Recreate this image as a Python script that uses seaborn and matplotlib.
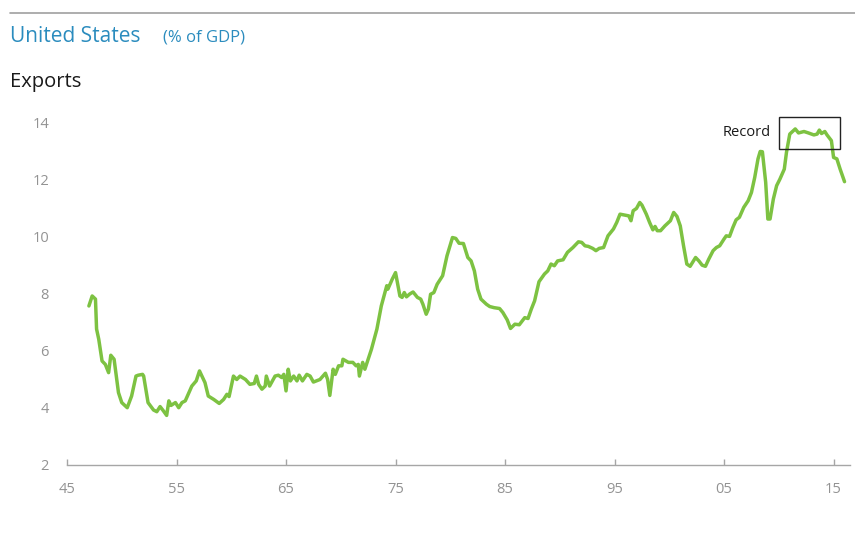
import matplotlib
matplotlib.use("Agg")
import matplotlib.pyplot as plt
import matplotlib.patches as mpatches
import seaborn as sns
import pandas as pd

# US exports as a share of GDP (%), by fractional year
years = [
    1947.0, 1947.3, 1947.6, 1947.7, 1947.9, 1948.2, 1948.5, 1948.8, 1949.0, 1949.3,
    1949.7, 1950.0, 1950.5, 1950.9, 1951.3, 1951.5, 1951.9, 1952.0, 1952.4, 1952.9,
    1953.2, 1953.5, 1953.8, 1954.1, 1954.3, 1954.5, 1954.9, 1955.2, 1955.5, 1955.8,
    1956.4, 1956.8, 1957.1, 1957.6, 1957.9, 1958.4, 1958.9, 1959.3, 1959.6, 1959.8,
    1960.2, 1960.5, 1960.8, 1961.3, 1961.7, 1962.1, 1962.3, 1962.5, 1962.8, 1963.1,
    1963.2, 1963.5, 1964.0, 1964.3, 1964.6, 1964.8, 1965.0, 1965.2, 1965.4, 1965.7,
    1966.0, 1966.2, 1966.5, 1966.9, 1967.2, 1967.5, 1968.1, 1968.6, 1968.8, 1969.0,
    1969.3, 1969.5, 1969.8, 1970.1, 1970.2, 1970.7, 1971.1, 1971.4, 1971.6, 1971.7,
    1972.0, 1972.2, 1972.5, 1972.8, 1973.3, 1973.7, 1974.2, 1974.3, 1974.7, 1975.0,
    1975.4, 1975.6, 1975.8, 1976.0, 1976.3, 1976.6, 1977.0, 1977.3, 1977.5, 1977.8,
    1978.0, 1978.2, 1978.5, 1978.8, 1979.3, 1979.7, 1980.2, 1980.5, 1980.8, 1981.2,
    1981.6, 1981.9, 1982.2, 1982.5, 1982.8, 1983.3, 1983.6, 1984.0, 1984.5, 1984.8,
    1985.2, 1985.5, 1985.9, 1986.3, 1986.8, 1987.1, 1987.4, 1987.7, 1988.1, 1988.6,
    1988.9, 1989.2, 1989.5, 1989.8, 1990.3, 1990.7, 1991.2, 1991.7, 1992.0, 1992.3,
    1992.6, 1993.0, 1993.3, 1993.6, 1994.0, 1994.4, 1994.9, 1995.2, 1995.5, 1995.9,
    1996.3, 1996.5, 1996.7, 1997.0, 1997.3, 1997.5, 1997.9, 1998.2, 1998.5, 1998.7,
    1998.9, 1999.2, 1999.6, 2000.1, 2000.4, 2000.7, 2001.0, 2001.3, 2001.6, 2001.9,
    2002.4, 2002.7, 2003.0, 2003.3, 2003.6, 2004.0, 2004.3, 2004.6, 2005.0, 2005.2,
    2005.5, 2005.8, 2006.1, 2006.4, 2006.8, 2007.2, 2007.5, 2007.8, 2008.1, 2008.3,
    2008.5, 2008.8, 2009.0, 2009.2, 2009.5, 2009.8, 2010.1, 2010.5, 2010.7, 2011.0,
    2011.5, 2011.8, 2012.3, 2012.7, 2013.2, 2013.5, 2013.7, 2013.9, 2014.2, 2014.4,
    2014.8, 2015.0, 2015.3, 2015.6, 2016.0,
]
exports = [
    7.58, 7.93, 7.82, 6.77, 6.41, 5.65, 5.53, 5.24, 5.85, 5.71,
    4.54, 4.19, 4.01, 4.42, 5.12, 5.15, 5.18, 5.12, 4.19, 3.93,
    3.87, 4.05, 3.90, 3.74, 4.25, 4.09, 4.19, 4.01, 4.19, 4.25,
    4.77, 4.95, 5.30, 4.89, 4.42, 4.30, 4.16, 4.30, 4.48, 4.40,
    5.12, 5.00, 5.12, 5.00, 4.83, 4.86, 5.12, 4.83, 4.66, 4.77,
    5.12, 4.77, 5.12, 5.15, 5.07, 5.18, 4.60, 5.36, 4.95, 5.12,
    4.95, 5.15, 4.95, 5.18, 5.12, 4.91, 5.00, 5.22, 5.00, 4.44,
    5.36, 5.18, 5.48, 5.48, 5.71, 5.60, 5.60, 5.48, 5.53, 5.12,
    5.60, 5.36, 5.71, 6.06, 6.77, 7.58, 8.29, 8.17, 8.52, 8.75,
    7.93, 7.88, 8.05, 7.90, 8.00, 8.07, 7.88, 7.82, 7.64, 7.29,
    7.47, 7.99, 8.05, 8.34, 8.64, 9.34, 9.98, 9.95, 9.78, 9.77,
    9.28, 9.16, 8.81, 8.17, 7.82, 7.64, 7.56, 7.52, 7.49, 7.35,
    7.09, 6.79, 6.94, 6.92, 7.17, 7.14, 7.47, 7.76, 8.43, 8.70,
    8.81, 9.05, 8.99, 9.16, 9.20, 9.46, 9.63, 9.83, 9.81, 9.69,
    9.67, 9.60, 9.52, 9.60, 9.63, 10.04, 10.28, 10.51, 10.80, 10.77,
    10.74, 10.57, 10.92, 11.00, 11.21, 11.12, 10.80, 10.51, 10.25, 10.37,
    10.22, 10.22, 10.39, 10.57, 10.86, 10.72, 10.39, 9.69, 9.05, 8.97,
    9.28, 9.16, 9.01, 8.97, 9.22, 9.52, 9.63, 9.69, 9.93, 10.04,
    10.02, 10.33, 10.60, 10.69, 11.04, 11.27, 11.56, 12.09, 12.74, 13.00,
    12.99, 11.92, 10.63, 10.63, 11.33, 11.80, 12.03, 12.38, 12.97, 13.61,
    13.79, 13.65, 13.70, 13.65, 13.58, 13.61, 13.75, 13.63, 13.70, 13.58,
    13.38, 12.79, 12.74, 12.38, 11.94,
]

x_ticks = [1945, 1955, 1965, 1975, 1985, 1995, 2005, 2015]
x_tick_labels = ["45", "55", "65", "75", "85", "95", "05", "15"]
y_ticks = [2, 4, 6, 8, 10, 12, 14]

# Record-high window highlighted with a box
record_start, record_end = 2010.0, 2015.6
record_low, record_high = 13.09, 14.21

df = pd.DataFrame({"year": years, "exports": exports})

sns.set_theme(style="white")
plt.rcParams["font.family"] = ["Open Sans", "DejaVu Sans"]

W, H = 855, 541
fig = plt.figure(figsize=(W / 100, H / 100), dpi=100)
ax = fig.add_axes([67 / W, (H - 465) / H, (850 - 67) / W, (465 - 105) / H])

sns.lineplot(data=df, x="year", y="exports", ax=ax, color="#7dc242",
             linewidth=2.5, estimator=None, sort=False)

ax.set_xlim(1945, 2016.5)
ax.set_ylim(2, 14.63)
ax.set_xticks(x_ticks)
ax.set_xticklabels(x_tick_labels)
ax.set_yticks(y_ticks)
ax.set_xlabel("")
ax.set_ylabel("")

for side in ["top", "right", "left"]:
    ax.spines[side].set_visible(False)
ax.spines["bottom"].set_color("#a6a6a6")
ax.spines["bottom"].set_linewidth(1.0)

ax.tick_params(axis="x", direction="in", length=4, width=1.0, color="#a6a6a6",
               labelcolor="#939393", labelsize=10.5, pad=12, bottom=True)
ax.tick_params(axis="y", length=0, labelcolor="#939393", labelsize=10.5, pad=13)

ax.add_patch(mpatches.Rectangle((record_start, record_low),
                                record_end - record_start, record_high - record_low,
                                fill=False, edgecolor="#222222", linewidth=1.0, zorder=5))
ax.text(record_start - 0.7, (record_low + record_high) / 2, "Record",
        ha="right", va="center", fontsize=10.5, color="#1a1a1a")

# Header: rule, country title with unit, and panel name
fig.add_artist(plt.Line2D([10 / W, 1.0], [1 - 13 / H, 1 - 13 / H],
                          color="#a0a0a0", linewidth=1.2))
fig.text(10 / W, 1 - 37 / H, "United States", fontsize=15, color="#2b8cbe",
         ha="left", va="center")
fig.text(163 / W, 1 - 38 / H, "(% of GDP)", fontsize=12, color="#2b8cbe",
         ha="left", va="center")
fig.text(10 / W, 1 - 82 / H, "Exports", fontsize=14.5, color="#1a1a1a",
         ha="left", va="center")

fig.savefig("out.png", dpi=100)
